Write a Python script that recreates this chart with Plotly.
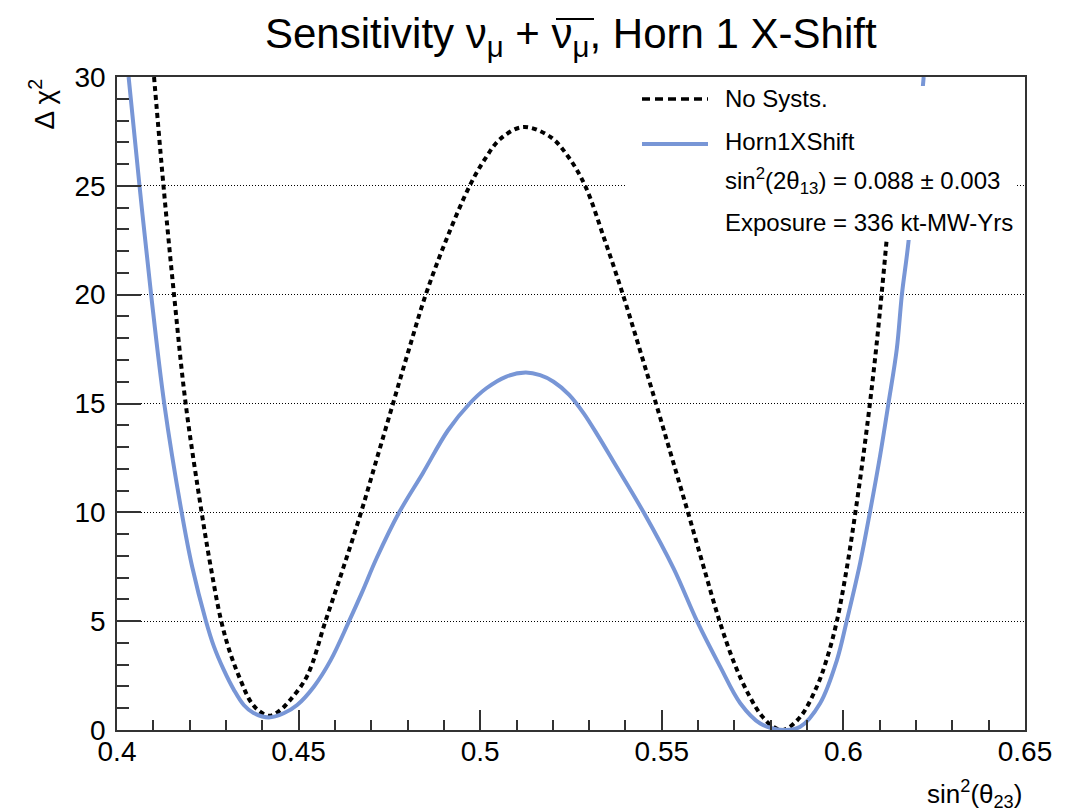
import plotly.graph_objects as go

# ---------------- data ----------------
nosyst_x = [0.4102, 0.4128, 0.4157, 0.4189, 0.4233, 0.4258, 0.4287, 0.4312, 0.4340, 0.4368,
            0.4393, 0.4420, 0.4445, 0.4478, 0.4524, 0.4574, 0.4624, 0.4672, 0.4716, 0.4760,
            0.4804, 0.4850, 0.4906, 0.4971, 0.5012, 0.5055, 0.5118, 0.5193, 0.5244, 0.5289,
            0.5343, 0.5393, 0.5439, 0.5484, 0.5528, 0.5572, 0.5615, 0.5659, 0.5700, 0.5740,
            0.5775, 0.5807, 0.5835, 0.5881, 0.5927, 0.5955, 0.5982, 0.6010, 0.6033, 0.6054,
            0.6073, 0.6090, 0.6105, 0.6119, 0.6127]
nosyst_y = [30.0, 25.0, 20.0, 15.0, 10.0, 7.5, 5.0, 3.52, 2.3, 1.3,
            0.85, 0.65, 0.85, 1.4, 2.5, 5.0, 7.5, 10.0, 12.5, 15.0,
            17.5, 20.0, 22.5, 25.0, 26.2, 27.15, 27.7, 27.25, 26.3, 25.0,
            22.5, 20.0, 17.5, 15.0, 12.5, 10.0, 7.5, 5.0, 3.05, 1.6,
            0.65, 0.15, 0.0, 0.6, 2.0, 3.3, 5.0, 7.5, 10.0, 12.5,
            15.0, 17.5, 20.0, 22.5, 24.0]

horn_x = [0.4032, 0.4062, 0.4094, 0.4130, 0.4178, 0.4207, 0.4245, 0.4267, 0.4294, 0.4322,
          0.4349, 0.4376, 0.4418, 0.4459, 0.4496, 0.4542, 0.4588, 0.4639, 0.4674, 0.4715,
          0.4777, 0.4842, 0.4911, 0.4971, 0.5017, 0.5072, 0.5125, 0.5165, 0.5202, 0.5245,
          0.5285, 0.5325, 0.5368, 0.5450, 0.5533, 0.5597, 0.5661, 0.5716, 0.5771, 0.5835,
          0.5881, 0.5936, 0.5982, 0.6009, 0.6046, 0.6073, 0.6101, 0.6124, 0.6147, 0.6161,
          0.6179, 0.6221]
horn_y = [30.0, 25.0, 20.0, 15.0, 10.0, 7.5, 5.0, 3.83, 2.76, 1.84,
          1.15, 0.78, 0.58, 0.77, 1.15, 1.99, 3.2, 5.0, 6.3, 7.9,
          10.0, 11.8, 13.76, 15.0, 15.7, 16.24, 16.42, 16.3, 16.0, 15.4,
          14.55, 13.5, 12.3, 10.0, 7.4, 5.0, 2.9, 1.23, 0.3, 0.0,
          0.15, 1.23, 3.2, 5.0, 7.67, 10.0, 12.6, 15.0, 17.5, 20.0,
          22.4, 30.0]

x_tickvals = [0.40, 0.45, 0.50, 0.55, 0.60, 0.65]
x_ticktext = ["0.4", "0.45", "0.5", "0.55", "0.6", "0.65"]
y_tickvals = [0, 5, 10, 15, 20, 25, 30]
y_ticktext = ["0", "5", "10", "15", "20", "25", "30"]

series_names = ["No Systs.", "Horn1XShift"]
legend_extra = ["sin<sup>2</sup>(2θ<sub>13</sub>) = 0.088 ± 0.003",
                "Exposure = 336 kt-MW-Yrs"]
title_text = "Sensitivity ν<sub>μ</sub> + ν<sub>μ</sub>, Horn 1 X-Shift"

# ---------------- style ----------------
FONT = "Liberation Sans, Arial, Helvetica, sans-serif"
BLUE = "#7896d6"
W, H = 1073, 812
L, R, T, B = 117, 48, 77, 82
PW, PH = W - L - R, H - T - B


def px2paper(px, py):
    return (px - L) / PW, (H - B - py) / PH


fig = go.Figure()
fig.add_trace(go.Scatter(x=nosyst_x, y=nosyst_y, mode="lines", name=series_names[0],
                         line=dict(color="black", width=4, dash="5px,4px", shape="spline",
                                   smoothing=1.0),
                         showlegend=False, hoverinfo="skip"))
fig.add_trace(go.Scatter(x=horn_x, y=horn_y, mode="lines", name=series_names[1],
                         line=dict(color=BLUE, width=4, shape="spline", smoothing=1.0),
                         showlegend=False, hoverinfo="skip"))

shapes = []
# legend box (white, covers curves and grid)
x0, y1 = px2paper(625, 86)
x1, y0 = px2paper(1015, 240)
shapes.append(dict(type="rect", xref="paper", yref="paper", x0=x0, x1=x1, y0=y0, y1=y1,
                   fillcolor="white", line=dict(width=0), layer="above"))
# legend samples
ax0, ay = px2paper(642, 99)
ax1, _ = px2paper(708, 99)
shapes.append(dict(type="line", xref="paper", yref="paper", x0=ax0, x1=ax1, y0=ay, y1=ay,
                   line=dict(color="black", width=3.5, dash="8px,5px"), layer="above"))
bx0, by = px2paper(642, 144)
bx1, _ = px2paper(708, 144)
shapes.append(dict(type="line", xref="paper", yref="paper", x0=bx0, x1=bx1, y0=by, y1=by,
                   line=dict(color=BLUE, width=4), layer="above"))
# overline for anti-neutrino in the title
ox0, oy = px2paper(556, 19)
ox1, _ = px2paper(594, 19)
shapes.append(dict(type="line", xref="paper", yref="paper", x0=ox0, x1=ox1, y0=oy, y1=oy,
                   line=dict(color="black", width=2), layer="above"))

annotations = []
legend_rows = [(series_names[0], 99), (series_names[1], 141),
               (legend_extra[0], 181), (legend_extra[1], 222)]
for txt, py in legend_rows:
    lx, ly = px2paper(723, py)
    annotations.append(dict(text=txt, xref="paper", yref="paper", x=lx, y=ly,
                            xanchor="left", yanchor="middle", showarrow=False,
                            font=dict(family=FONT, size=24, color="black")))
# title
tx, ty = px2paper(571, 36)
annotations.append(dict(text=title_text, xref="paper", yref="paper", x=tx, y=ty,
                        xanchor="center", yanchor="middle", showarrow=False,
                        font=dict(family=FONT, size=42, color="black")))
# axis titles
xx, xy = px2paper(1024, 794)
annotations.append(dict(text="sin<sup>2</sup>(θ<sub>23</sub>)", xref="paper", yref="paper",
                        x=xx, y=xy, xanchor="right", yanchor="middle", showarrow=False,
                        font=dict(family=FONT, size=26, color="black")))
yx, yy = px2paper(42, 77)
annotations.append(dict(text="Δ χ<sup>2</sup>", xref="paper", yref="paper",
                        x=yx, y=yy, xanchor="center", yanchor="top", textangle=-90,
                        showarrow=False, font=dict(family=FONT, size=28, color="black")))

axis_common = dict(showline=True, mirror=True, linecolor="#333333", linewidth=1.5,
                   ticks="inside", tickcolor="#333333", tickwidth=1.5, zeroline=False,
                   tickfont=dict(family=FONT, size=28, color="black"))

fig.update_layout(
    width=W, height=H,
    margin=dict(l=L, r=R, t=T, b=B, pad=0),
    paper_bgcolor="white", plot_bgcolor="white",
    showlegend=False,
    shapes=shapes, annotations=annotations,
    xaxis=dict(range=[0.4, 0.65], tickvals=x_tickvals, ticktext=x_ticktext,
               ticklen=20, showgrid=False, ticklabelstandoff=-4,
               minor=dict(ticks="inside", ticklen=10, dtick=0.01, tick0=0.4,
                          tickcolor="#333333", tickwidth=1.5, showgrid=False),
               **axis_common),
    yaxis=dict(range=[0, 30], tickvals=y_tickvals, ticktext=y_ticktext,
               ticklen=24, showgrid=True, gridcolor="black", gridwidth=1,
               griddash="1px,2px", ticklabelstandoff=4,
               minor=dict(ticks="inside", ticklen=12, dtick=1, tick0=0,
                          tickcolor="#333333", tickwidth=1.5, showgrid=False),
               **axis_common),
)

fig.write_html("out.html")
